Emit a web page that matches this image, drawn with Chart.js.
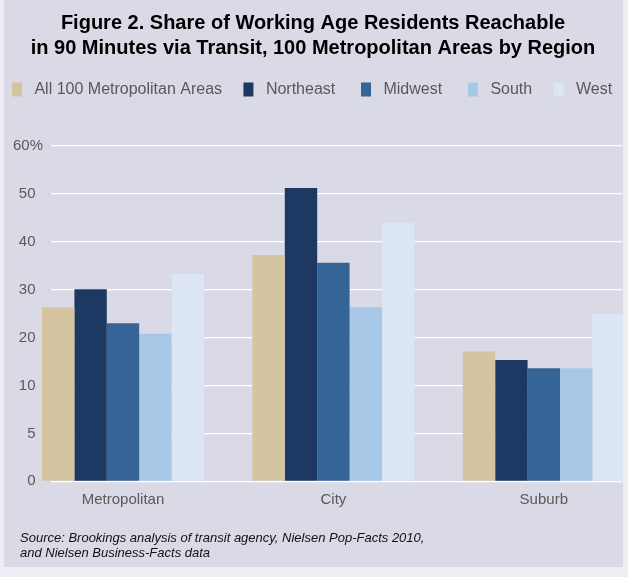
<!DOCTYPE html>
<html>
<head>
<meta charset="utf-8">
<script src="https://cdn.jsdelivr.net/npm/chart.js@4/dist/chart.umd.min.js"></script>
<style>
  body { margin: 0; background: #eceef4; width: 628px; height: 577px; overflow: hidden; }
  #panel { position: absolute; left: 4px; top: 0; width: 619px; height: 567px; background: #d9dae6; overflow: hidden; }
  #chart { position: absolute; left: 0; top: 0; }
  #source { position: absolute; left: 16px; top: 529.5px; font: italic 13px/15px "Liberation Sans", Arial, sans-serif; color: #111; }
</style>
</head>
<body>
<div id="panel">
  <canvas id="chart" width="622" height="567"></canvas>
  <div id="source">Source: Brookings analysis of transit agency, Nielsen Pop-Facts 2010,<br>and Nielsen Business-Facts data</div>
</div>
<script>
const categories = ['Metropolitan', 'City', 'Suburb'];
const seriesNames = ['All 100 Metropolitan Areas', 'Northeast', 'Midwest', 'South', 'West'];
const allAreas = [26.3, 37.2, 17.1];
const northeast = [30.1, 51.2, 15.3];
const midwest = [23.0, 35.6, 13.6];
const south = [20.8, 26.3, 13.6];
const west = [33.3, 44.0, 24.9];
const yTicks = [0, 5, 10, 20, 30, 40, 50, 60];

const colors = ['#d4c5a0', '#1e3864', '#356596', '#a7c7e7', '#dce5f3'];
const legendTrail = [3, 4, 4, 3, 0];
const gray = '#595959';
const Y_TOP = 7.8; // plot height in grid steps
const X_MIN = -0.3436, X_MAX = 2.3717;

// the original axis has equal steps for 0-5-10 and then 10-point steps
const toSteps = v => v <= 10 ? v / 5 : 1 + v / 10;

class SplitScale extends Chart.LinearScale {
  determineDataLimits() {
    this.min = 0;
    this.max = 60;
  }
  buildTicks() {
    return yTicks.map(v => ({ value: v }));
  }
  getPixelForValue(value) {
    return this.getPixelForDecimal(toSteps(value) / Y_TOP);
  }
  getValueForPixel(pixel) {
    const s = this.getDecimalForPixel(pixel) * Y_TOP;
    return s <= 2 ? s * 5 : (s - 1) * 10;
  }
}
SplitScale.id = 'split';
SplitScale.defaults = Chart.LinearScale.defaults;
Chart.register(SplitScale);

const series = [allAreas, northeast, midwest, south, west];
const datasets = series.map((vals, i) => ({
  label: seriesNames[i],
  data: vals.map((v, j) => ({ x: j, y: v })),
  backgroundColor: colors[i],
  borderWidth: 0,
  barPercentage: 1,
  categoryPercentage: 0.77,
  clip: false
}));

new Chart(document.getElementById('chart'), {
  type: 'bar',
  data: { datasets },
  options: {
    responsive: false,
    animation: false,
    layout: { padding: { left: 0, right: 4, top: 0, bottom: 57.7 } },
    plugins: {
      tooltip: { enabled: false },
      title: {
        display: true,
        text: ['Figure 2. Share of Working Age Residents Reachable',
               'in 90 Minutes via Transit, 100 Metropolitan Areas by Region'],
        color: '#000',
        font: { family: 'Liberation Sans', size: 20, weight: 'bold', lineHeight: 1.25 },
        padding: { top: 10.6, bottom: 12.9 }
      },
      legend: {
        align: 'start',
        labels: {
          boxWidth: 10,
          boxHeight: 14,
          padding: 8,
          color: gray,
          font: { family: 'Liberation Sans', size: 16 },
          generateLabels: chart => Chart.defaults.plugins.legend.labels.generateLabels(chart).map((item, i) => {
            item.text = ' ' + item.text + ' '.repeat(legendTrail[i]);
            item.lineWidth = 0;
            return item;
          })
        }
      }
    },
    scales: {
      x: {
        type: 'linear',
        offset: false,
        min: X_MIN,
        max: X_MAX,
        grid: { display: false, drawTicks: false, offset: false },
        border: { display: false },
        ticks: {
          stepSize: 1,
          includeBounds: false,
          autoSkip: false,
          maxRotation: 0,
          padding: 10,
          color: gray,
          font: { family: 'Liberation Sans', size: 15 },
          callback: v => categories[v]
        },
        afterBuildTicks: s => { s.min = X_MIN; s.max = X_MAX; },
        afterFit: s => { s.height = 28; }
      },
      y: {
        type: 'split',
        grid: { color: '#ffffff', lineWidth: 1.2, drawTicks: false },
        border: { display: false },
        ticks: {
          padding: 7.7,
          color: gray,
          font: { family: 'Liberation Sans', size: 15 },
          callback: v => v === 60 ? '60%' : v + '\u2002'
        },
        afterFit: s => { s.width = 46.7; }
      }
    }
  }
});
</script>
</body>
</html>
